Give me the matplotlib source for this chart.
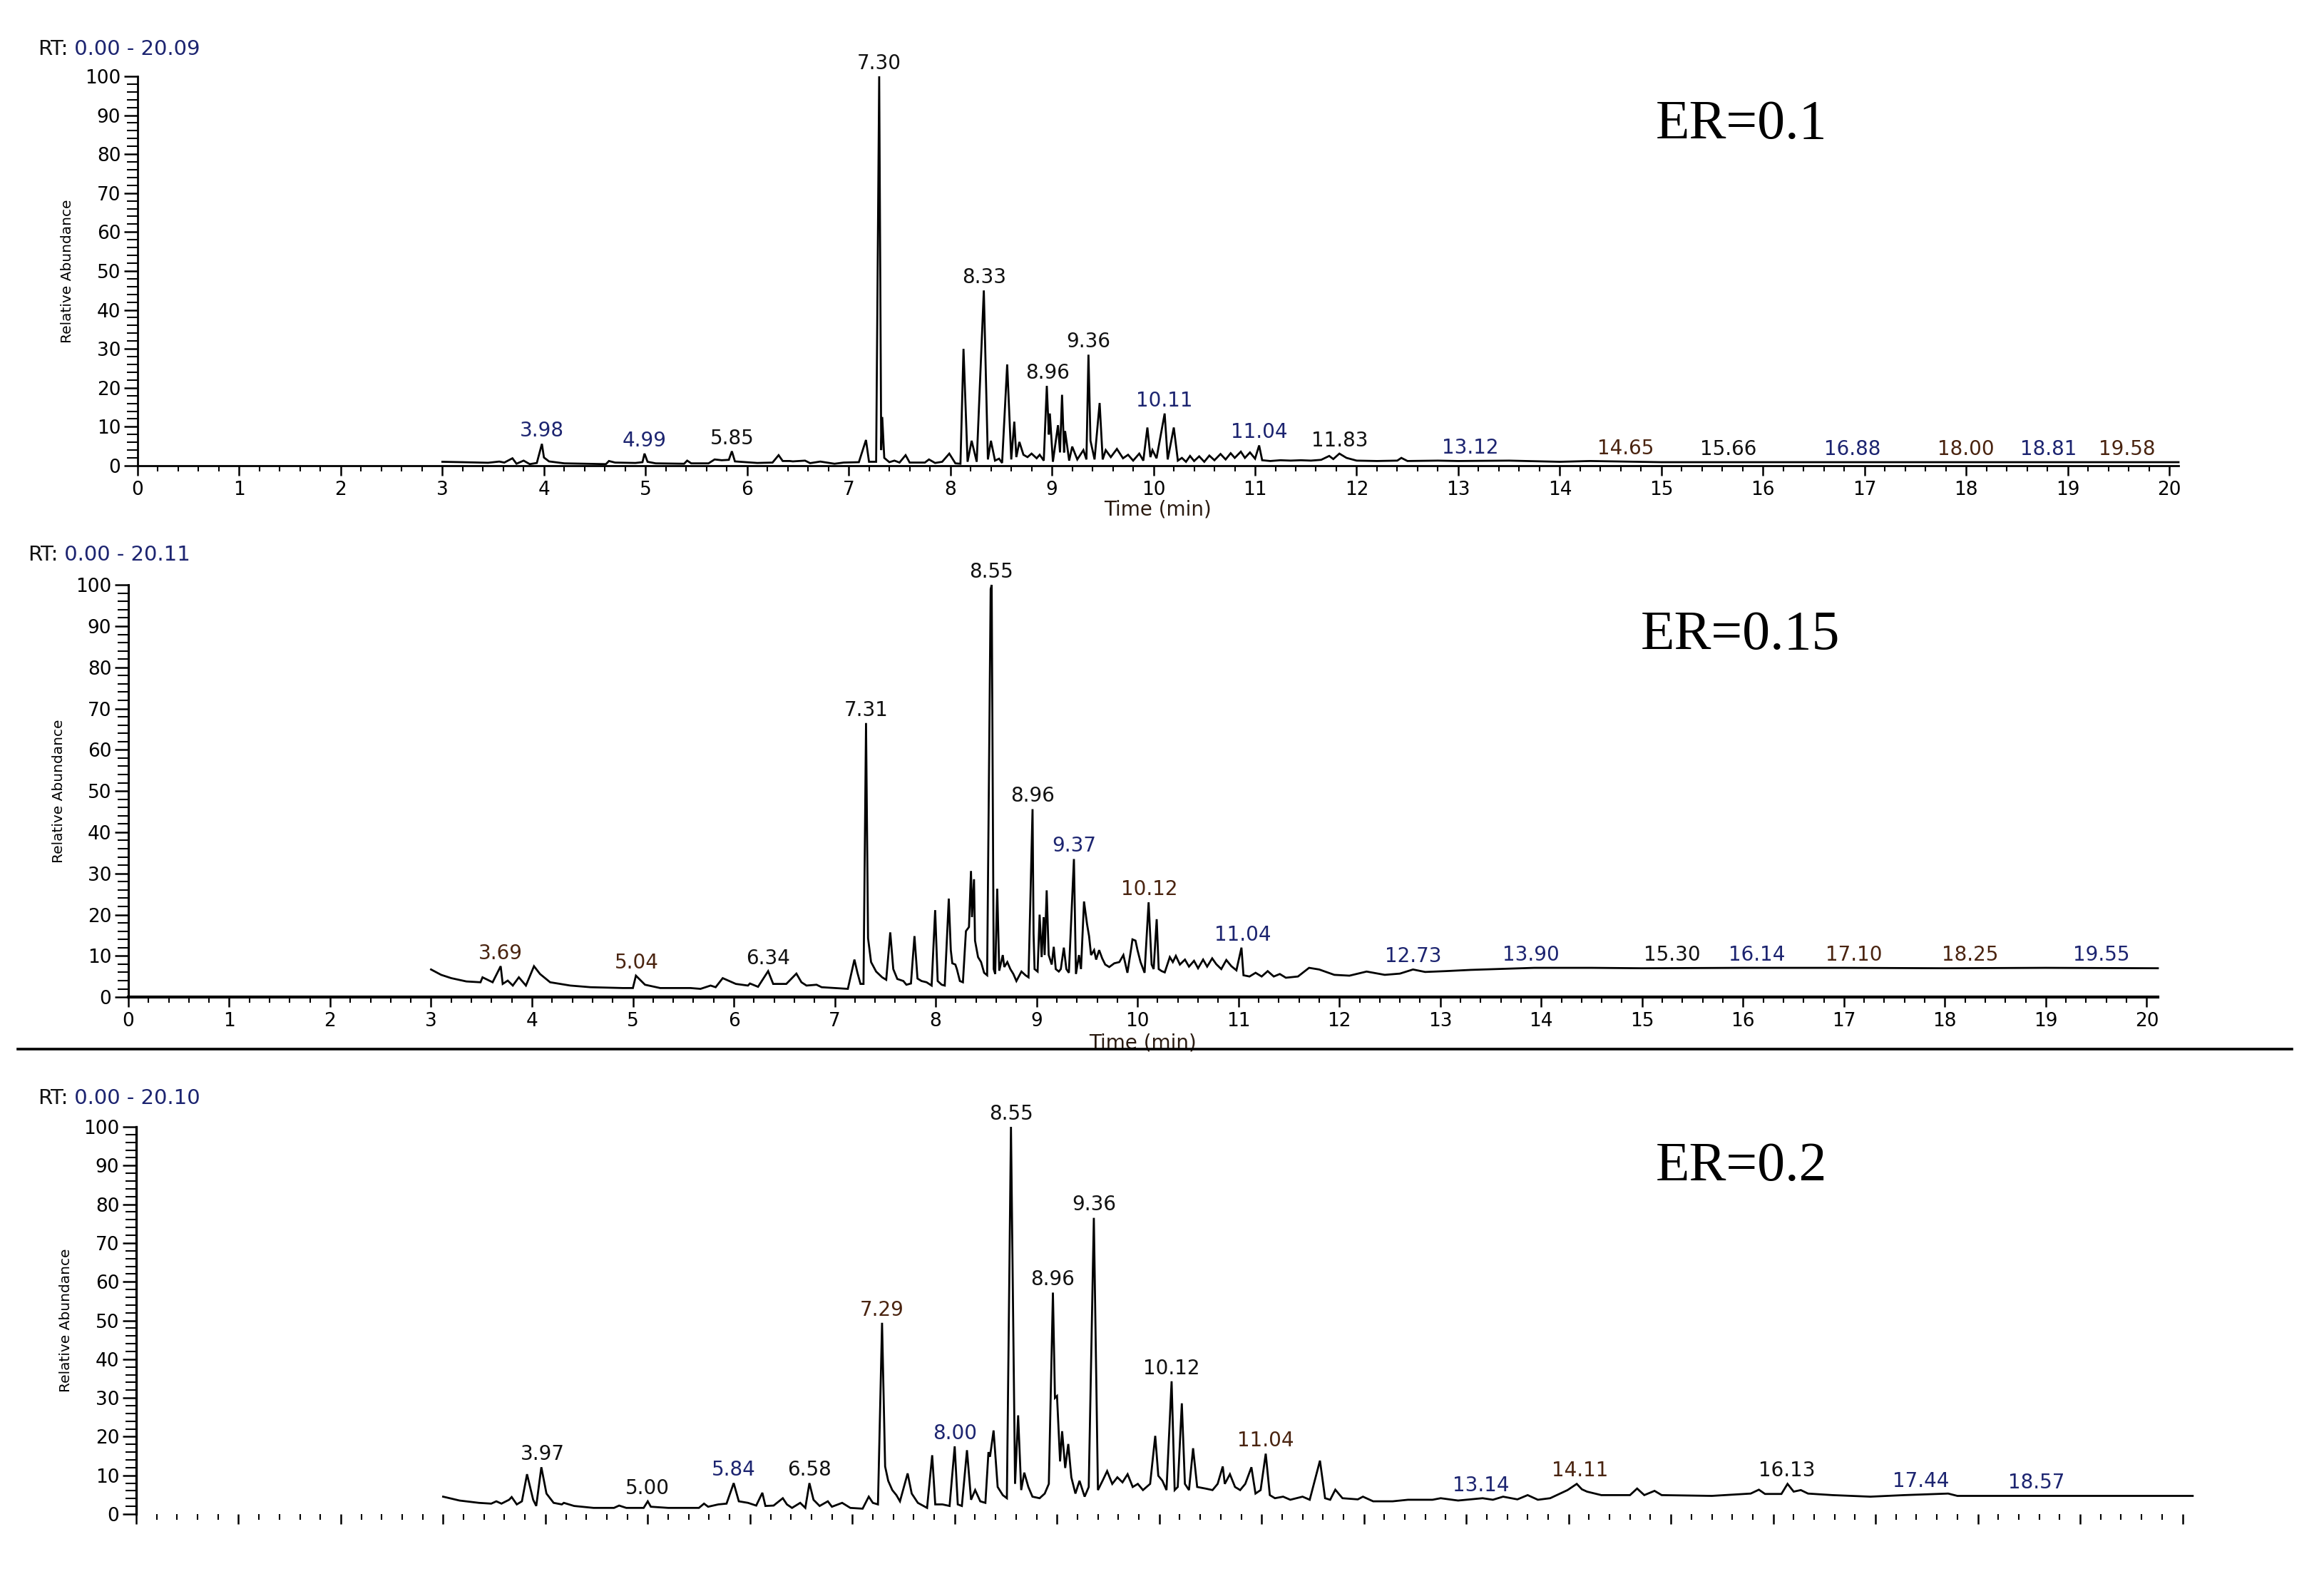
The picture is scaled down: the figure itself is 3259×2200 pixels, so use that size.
import matplotlib
matplotlib.use('Agg')
from matplotlib import pyplot as plt
from matplotlib.lines import Line2D
from matplotlib.ticker import MultipleLocator
import numpy as np

plt.rcParams['font.family'] = 'DejaVu Sans'

# chromatogram vertices (retention time [min], relative abundance [%])
er01_trace = [
    (3.00, 1.0), (3.20, 0.9), (3.45, 0.75), (3.56, 1.06), (3.61, 0.8), (3.69, 1.9), (3.73, 0.5), (3.80, 1.3),
    (3.86, 0.4), (3.93, 0.7), (3.98, 5.6), (4.00, 2.1), (4.05, 1.1), (4.20, 0.6), (4.40, 0.5), (4.61, 0.4),
    (4.64, 1.2), (4.70, 0.8), (4.90, 0.7), (4.97, 0.9), (4.99, 3.1), (5.02, 1.0), (5.10, 0.6), (5.38, 0.5),
    (5.41, 1.3), (5.45, 0.6), (5.62, 0.6), (5.68, 1.6), (5.75, 1.4), (5.82, 1.5), (5.85, 3.7), (5.88, 1.1),
    (6.10, 0.7), (6.25, 0.8), (6.31, 2.7), (6.35, 1.2), (6.42, 1.2), (6.45, 1.1), (6.57, 1.3), (6.62, 0.65),
    (6.72, 1.06), (6.86, 0.5), (6.95, 0.8), (7.10, 0.9), (7.17, 6.6), (7.20, 1.0), (7.27, 1.0), (7.30, 100),
    (7.32, 4.0), (7.33, 12.5), (7.35, 2.0), (7.40, 0.9), (7.45, 1.3), (7.50, 0.8), (7.56, 2.7), (7.60, 0.8),
    (7.75, 0.8), (7.79, 1.6), (7.85, 0.7), (7.92, 1.0), (7.99, 3.1), (8.05, 0.6), (8.10, 0.5), (8.13, 30),
    (8.17, 1.0), (8.21, 6.4), (8.26, 1.0), (8.33, 45), (8.37, 1.6), (8.40, 6.4), (8.44, 1.3), (8.48, 1.8),
    (8.51, 0.7), (8.56, 26), (8.60, 1.6), (8.63, 11.3), (8.65, 2.2), (8.68, 6.1), (8.72, 2.8), (8.76, 2.2),
    (8.80, 3.1), (8.85, 1.9), (8.88, 2.8), (8.92, 1.3), (8.95, 20.5), (8.97, 8.0), (8.98, 13.4), (9.01, 1.0),
    (9.06, 10.4), (9.08, 3.4), (9.10, 18.2), (9.12, 3.4), (9.13, 8.9), (9.17, 1.3), (9.20, 4.9), (9.25, 1.6),
    (9.31, 4.0), (9.34, 1.6), (9.36, 28.5), (9.38, 6.4), (9.42, 1.6), (9.47, 16.1), (9.50, 1.6), (9.53, 4.0),
    (9.58, 2.2), (9.64, 4.3), (9.70, 1.9), (9.75, 2.8), (9.80, 1.3), (9.86, 3.1), (9.90, 1.3), (9.94, 9.8),
    (9.97, 2.2), (9.99, 4.0), (10.03, 1.9), (10.11, 13.4), (10.14, 1.6), (10.20, 9.8), (10.24, 1.3), (10.28, 2.0),
    (10.32, 1.0), (10.36, 2.5), (10.40, 1.2), (10.45, 2.4), (10.50, 1.0), (10.55, 2.6), (10.60, 1.4), (10.66, 3.0),
    (10.71, 1.6), (10.76, 3.2), (10.80, 2.0), (10.86, 3.6), (10.90, 2.0), (10.95, 3.4), (11.00, 1.8), (11.04, 5.2),
    (11.07, 1.4), (11.15, 1.2), (11.25, 1.4), (11.35, 1.3), (11.45, 1.4), (11.55, 1.3), (11.65, 1.5), (11.73, 2.5),
    (11.77, 1.7), (11.83, 3.1), (11.90, 2.0), (12.00, 1.3), (12.20, 1.2), (12.40, 1.3), (12.44, 2.0), (12.50, 1.2),
    (12.80, 1.3), (13.00, 1.2), (13.50, 1.3), (14.00, 1.0), (14.30, 1.2), (15.00, 0.9), (16.00, 0.9), (17.00, 0.9),
    (18.00, 0.9), (19.00, 0.9), (20.09, 0.9),
]

er015_trace = [
    (3.00, 6.7), (3.10, 5.4), (3.20, 4.6), (3.35, 3.8), (3.49, 3.6), (3.51, 4.8), (3.61, 3.6), (3.69, 7.5),
    (3.71, 3.2), (3.76, 4.0), (3.81, 2.8), (3.87, 4.8), (3.94, 2.8), (4.02, 7.5), (4.08, 5.6), (4.18, 3.6),
    (4.38, 2.8), (4.58, 2.4), (4.90, 2.2), (5.00, 2.2), (5.03, 5.2), (5.12, 3.0), (5.27, 2.2), (5.57, 2.2),
    (5.67, 2.0), (5.77, 2.8), (5.82, 2.4), (5.89, 4.6), (6.02, 3.2), (6.14, 2.8), (6.16, 3.3), (6.24, 2.5),
    (6.34, 6.3), (6.39, 3.2), (6.52, 3.2), (6.62, 5.7), (6.67, 3.6), (6.72, 2.8), (6.82, 3.0), (6.87, 2.4),
    (7.00, 2.2), (7.13, 2.0), (7.195, 9.1), (7.225, 5.9), (7.255, 3.2), (7.285, 3.2), (7.31, 66.5), (7.33, 14.3),
    (7.36, 8.5), (7.41, 6.2), (7.47, 4.8), (7.51, 4.2), (7.55, 15.7), (7.58, 6.8), (7.62, 4.4), (7.68, 3.9),
    (7.71, 3.0), (7.755, 3.3), (7.79, 14.8), (7.82, 4.5), (7.86, 3.9), (7.91, 3.6), (7.96, 2.8), (7.995, 21.1),
    (8.02, 3.9), (8.06, 3.0), (8.09, 2.8), (8.13, 23.9), (8.15, 11.4), (8.165, 8.2), (8.195, 7.9), (8.21, 6.8),
    (8.24, 3.9), (8.27, 3.6), (8.30, 16.0), (8.33, 17.0), (8.35, 30.6), (8.36, 19.4), (8.38, 28.6), (8.39, 13.7),
    (8.42, 9.7), (8.45, 8.5), (8.48, 5.9), (8.51, 5.3), (8.545, 99), (8.555, 100), (8.575, 6.8), (8.59, 5.6),
    (8.61, 26.3), (8.63, 6.4), (8.665, 10.2), (8.68, 7.3), (8.71, 8.5), (8.74, 6.8), (8.77, 5.6), (8.80, 3.9),
    (8.85, 6.2), (8.89, 5.3), (8.92, 4.8), (8.96, 45.6), (8.97, 15.4), (8.98, 6.8), (9.01, 6.2), (9.03, 20.0),
    (9.05, 9.7), (9.07, 19.4), (9.08, 10.2), (9.10, 25.9), (9.12, 10.2), (9.15, 7.9), (9.17, 12.2), (9.19, 6.8),
    (9.22, 6.2), (9.24, 6.8), (9.27, 12.0), (9.295, 6.8), (9.32, 5.9), (9.37, 33.5), (9.39, 5.6), (9.42, 10.2),
    (9.44, 6.8), (9.47, 23.2), (9.50, 17.7), (9.52, 14.8), (9.54, 10.2), (9.57, 11.4), (9.59, 9.1), (9.62, 11.4),
    (9.65, 9.4), (9.68, 7.9), (9.72, 7.3), (9.77, 8.2), (9.82, 8.5), (9.86, 10.2), (9.90, 5.9), (9.94, 12.2),
    (9.95, 14.0), (9.98, 13.7), (10.00, 11.4), (10.03, 8.5), (10.07, 5.9), (10.11, 23.0), (10.14, 7.9), (10.16, 6.8),
    (10.19, 18.9), (10.21, 6.8), (10.24, 6.3), (10.27, 6.0), (10.32, 9.7), (10.35, 8.5), (10.38, 10.0), (10.42, 7.9),
    (10.47, 9.1), (10.51, 7.4), (10.56, 8.8), (10.60, 7.0), (10.65, 9.1), (10.69, 7.4), (10.74, 9.4), (10.78, 8.0),
    (10.83, 6.8), (10.88, 9.0), (10.93, 7.5), (10.98, 6.5), (11.03, 12.0), (11.05, 5.3), (11.11, 5.0), (11.17, 5.9),
    (11.23, 5.0), (11.29, 6.3), (11.35, 5.0), (11.41, 5.6), (11.47, 4.7), (11.59, 5.0), (11.70, 7.1), (11.80, 6.7),
    (11.95, 5.4), (12.10, 5.2), (12.27, 6.2), (12.45, 5.4), (12.60, 5.7), (12.73, 6.7), (12.85, 6.1), (13.05, 6.3),
    (13.30, 6.6), (13.68, 6.9), (13.93, 7.1), (14.50, 7.1), (15.00, 7.0), (16.00, 7.1), (17.00, 7.1), (18.00, 7.0),
    (19.00, 7.1), (20.11, 7.0),
]

er02_trace = [
    (3.00, 4.5), (3.16, 3.5), (3.35, 2.9), (3.47, 2.7), (3.52, 3.3), (3.57, 2.7), (3.645, 3.7), (3.67, 4.4),
    (3.72, 2.5), (3.77, 3.3), (3.82, 10.3), (3.88, 3.7), (3.91, 2.1), (3.96, 12.1), (4.01, 5.3), (4.08, 2.9),
    (4.16, 2.5), (4.18, 2.9), (4.28, 2.1), (4.47, 1.6), (4.67, 1.6), (4.72, 2.2), (4.79, 1.6), (4.96, 1.6),
    (5.00, 3.3), (5.03, 1.9), (5.20, 1.6), (5.50, 1.6), (5.55, 2.7), (5.59, 1.9), (5.69, 2.5), (5.77, 2.7),
    (5.84, 8.0), (5.89, 3.3), (5.98, 2.9), (6.06, 2.2), (6.12, 5.5), (6.15, 2.1), (6.23, 2.2), (6.32, 4.1),
    (6.36, 2.5), (6.41, 1.6), (6.49, 2.9), (6.54, 1.6), (6.58, 8.0), (6.62, 3.7), (6.68, 2.1), (6.76, 3.3),
    (6.80, 1.9), (6.90, 2.9), (6.98, 1.6), (7.10, 1.4), (7.16, 4.5), (7.20, 2.9), (7.25, 2.5), (7.29, 49.4),
    (7.32, 12.3), (7.35, 8.6), (7.39, 6.2), (7.43, 4.9), (7.465, 3.3), (7.54, 10.5), (7.58, 5.3), (7.64, 2.9),
    (7.73, 1.6), (7.78, 15.2), (7.81, 2.5), (7.88, 2.5), (7.95, 2.1), (8.00, 17.5), (8.03, 2.5), (8.07, 2.1),
    (8.12, 16.5), (8.16, 3.7), (8.20, 6.2), (8.25, 3.3), (8.30, 2.9), (8.33, 16.0), (8.345, 14.8), (8.38, 21.6),
    (8.42, 7.0), (8.47, 4.9), (8.51, 4.1), (8.55, 100), (8.59, 7.8), (8.62, 25.5), (8.65, 6.2), (8.68, 10.7),
    (8.72, 7.0), (8.76, 4.5), (8.83, 4.1), (8.88, 5.3), (8.92, 7.8), (8.96, 57.2), (8.98, 30.0), (9.00, 30.5),
    (9.03, 13.6), (9.05, 21.4), (9.08, 11.9), (9.11, 18.1), (9.14, 9.5), (9.18, 5.3), (9.22, 8.6), (9.27, 4.5),
    (9.31, 7.0), (9.36, 76.5), (9.40, 6.2), (9.445, 8.6), (9.49, 11.1), (9.54, 7.8), (9.59, 9.5), (9.64, 8.2),
    (9.69, 10.3), (9.74, 7.0), (9.79, 7.8), (9.84, 6.2), (9.91, 7.8), (9.96, 20.2), (9.99, 9.9), (10.03, 8.6),
    (10.07, 6.2), (10.12, 34.3), (10.15, 6.2), (10.18, 7.0), (10.22, 28.6), (10.25, 7.8), (10.29, 6.2), (10.33, 17.0),
    (10.37, 7.0), (10.45, 6.6), (10.52, 6.2), (10.57, 7.8), (10.62, 12.3), (10.64, 7.8), (10.69, 10.3), (10.74, 7.0),
    (10.79, 6.2), (10.84, 7.8), (10.90, 12.1), (10.94, 5.3), (10.99, 6.2), (11.04, 15.6), (11.08, 4.9), (11.13, 4.1),
    (11.21, 4.5), (11.28, 3.7), (11.40, 4.5), (11.47, 3.7), (11.57, 13.8), (11.62, 4.1), (11.67, 3.7), (11.72, 6.3),
    (11.79, 4.1), (11.94, 3.8), (11.99, 4.5), (12.09, 3.3), (12.28, 3.3), (12.43, 3.7), (12.67, 3.7), (12.75, 4.1),
    (12.92, 3.5), (13.16, 4.1), (13.26, 3.7), (13.36, 4.5), (13.50, 3.8), (13.60, 4.9), (13.70, 3.7), (13.82, 4.1),
    (13.99, 6.2), (14.08, 7.8), (14.13, 6.4), (14.18, 5.8), (14.32, 4.9), (14.60, 4.9), (14.67, 6.6), (14.74, 4.9),
    (14.84, 6.0), (14.91, 4.9), (15.40, 4.7), (15.78, 5.3), (15.86, 6.3), (15.92, 5.2), (16.08, 5.2), (16.14, 7.8),
    (16.20, 5.8), (16.27, 6.2), (16.34, 5.3), (16.58, 4.9), (16.95, 4.5), (17.28, 4.9), (17.71, 5.3), (17.80, 4.7),
    (20.10, 4.7),
]

# labelled retention times
peaks_er01 = [3.98, 4.99, 5.85, 7.30, 8.33, 8.96, 9.36, 10.11, 11.04, 11.83, 13.12,
              14.65, 15.66, 16.88, 18.00, 18.81, 19.58]
peaks_er015 = [3.69, 5.04, 6.34, 7.31, 8.55, 8.96, 9.37, 10.12, 11.04, 12.73, 13.90,
               15.30, 16.14, 17.10, 18.25, 19.55]
peaks_er02 = [3.97, 5.00, 5.84, 6.58, 7.29, 8.00, 8.55, 8.96, 9.36, 10.12, 11.04,
              13.14, 14.11, 16.13, 17.44, 18.57]

rt_ranges = ['0.00 - 20.09', '0.00 - 20.11', '0.00 - 20.10']
rt_max = [20.09, 20.11, 20.10]
er_names = ['ER=0.1', 'ER=0.15', 'ER=0.2']

# label colours (k black, n navy, b brown), as in the instrument export
label_codes = ['nnkkkkknnknbknbnb', 'bbkkkknbnnnknbbn', 'kknkbnkkkkbnbknn']
CODE_COLORS = {'k': '#111111', 'n': '#1c2470', 'b': '#4a2410'}
NAVY = '#1c2470'


def draw_panel(fig, rect, trace, peaks, codes, xmax, show_xaxis, spine_w):
    rt, ab = map(np.array, zip(*trace))
    ax = fig.add_axes(rect)
    ax.plot(rt, ab, color='black', lw=2.0, clip_on=False, solid_joinstyle='miter')
    ax.set_xlim(0, xmax)
    ax.set_ylim(0, 100)

    for s in ['top', 'right']:
        ax.spines[s].set_visible(False)
    ax.spines['left'].set_linewidth(spine_w[0])
    ax.spines['bottom'].set_linewidth(spine_w[1])
    if not show_xaxis:
        ax.spines['bottom'].set_visible(False)

    ax.yaxis.set_major_locator(MultipleLocator(10))
    ax.yaxis.set_minor_locator(MultipleLocator(2))
    ax.xaxis.set_major_locator(MultipleLocator(1))
    ax.xaxis.set_minor_locator(MultipleLocator(0.2))
    ax.tick_params(axis='y', which='major', direction='out', length=14, width=1.8,
                   pad=3, labelsize=19)
    ax.tick_params(axis='y', which='minor', direction='out', length=11, width=1.5)
    ax.tick_params(axis='x', which='major', direction='out', length=10, width=1.8,
                   pad=5, labelsize=19, labelbottom=show_xaxis)
    ax.tick_params(axis='x', which='minor', direction='out', length=6, width=1.5)

    ax.set_ylabel('Relative Abundance', fontsize=14.5)
    ax.yaxis.set_label_coords(-0.031, 0.5)
    if show_xaxis:
        ax.set_xlabel('Time (min)', fontsize=20, color='#2a1a10')
        ax.xaxis.set_label_coords(0.5, -0.087)

    # peak labels just above the local maximum of the trace
    for p, c in zip(peaks, codes):
        near = np.abs(rt - p) <= 0.03
        top = ab[near].max() if near.any() else np.interp(p, rt, ab)
        ax.annotate(f'{p:.2f}', xy=(p, top), xytext=(0, 3), textcoords='offset points',
                    ha='center', va='bottom', fontsize=20, color=CODE_COLORS[c],
                    annotation_clip=False)
    return ax


fig = plt.figure(figsize=(32.59, 22.0), dpi=100)

rects = [
    [0.0592, 0.7032, 0.8782, 0.2482],
    [0.0552, 0.3645, 0.8733, 0.2627],
    [0.0586, 0.0350, 0.8849, 0.2468],
]
traces = [er01_trace, er015_trace, er02_trace]
peaks = [peaks_er01, peaks_er015, peaks_er02]
show_x = [True, True, False]
spines = [(2.0, 2.0), (2.2, 3.0), (2.4, 1.0)]

rt_pos = [(0.0163, 0.9686), (0.0120, 0.6464), (0.0163, 0.3000)]
er_pos = [(0.7125, 0.9118), (0.7060, 0.5864), (0.7125, 0.2477)]

for i in range(3):
    ax = draw_panel(fig, rects[i], traces[i], peaks[i], label_codes[i],
                    rt_max[i], show_x[i], spines[i])
    t1 = fig.text(rt_pos[i][0], rt_pos[i][1], 'RT:', fontsize=21, va='center',
                  color='#111111')
    ax.annotate(' ' + rt_ranges[i], xy=(1, 0.5), xycoords=t1, va='center',
                fontsize=21, color=NAVY, annotation_clip=False)
    fig.text(er_pos[i][0], er_pos[i][1], er_names[i], fontsize=56,
             family='Liberation Serif', va='baseline', ha='left', color='black')

# separator between the ER=0.15 and ER=0.2 runs
fig.add_artist(Line2D([0.0077, 0.9862], [0.3314, 0.3314], color='black', lw=2.6,
                      transform=fig.transFigure))

fig.savefig('out.png', dpi=100, facecolor='white')
